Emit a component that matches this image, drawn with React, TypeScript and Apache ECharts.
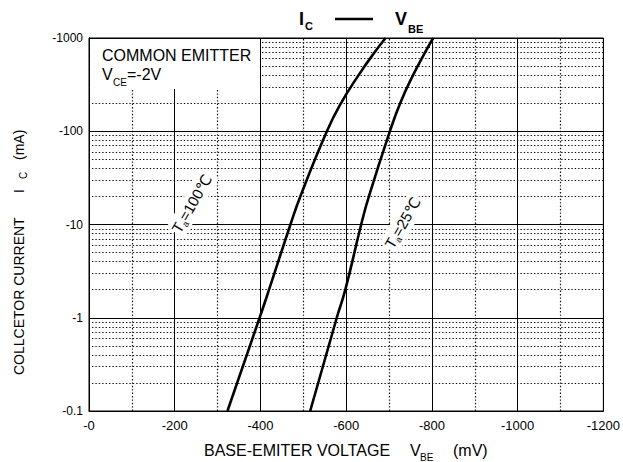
import React, { useEffect, useRef } from "react";
import * as echarts from "echarts";

// Collector current magnitude (mA); axis labels show them negative
const currentMA = [0.1, 1, 2, 10, 20, 100, 200, 400, 700, 1000];
// Base-emitter voltage magnitude (mV) at each current
const vbeTa100 = [323, 398, 420, 470, 493, 555, 588, 629, 666, 692];
const vbeTa25 = [516, 578, 598, 635, 653, 702, 726, 756, 784, 803];

const xMajorStep = 200;
const xMinorLines = [-100, -300, -500, -700, -900, -1100];
const yDecades = [0.1, 1, 10, 100];
const yMantissas = [2, 3, 4, 5, 6, 7, 8, 9];

const FONT = "'Liberation Sans', Arial, Helvetica, 'DejaVu Sans', sans-serif";

function txt(text: string, x: number, y: number, size: number, extra: any = {}) {
  return {
    type: "text",
    x,
    y,
    z: 60,
    silent: true,
    style: {
      text,
      fontSize: size,
      fontFamily: FONT,
      fill: "#000",
      verticalAlign: "middle",
      align: "left",
      ...extra,
    },
  };
}

function taLabel(cx: number, cy: number, value: string, half: number) {
  return {
    type: "group",
    x: cx,
    y: cy,
    rotation: (60 * Math.PI) / 180,
    z: 60,
    silent: true,
    children: [
      {
        type: "rect",
        z: 60,
        shape: { x: -half - 1, y: -10, width: half * 2 + 2, height: 21 },
        style: { fill: "#fff" },
      },
      txt("T", -half, 0, 15),
      txt("a", -half + 9, 5, 9),
      txt(value, -half + 14, 0, 15),
    ],
  };
}

export default function App() {
  const ref = useRef<HTMLDivElement>(null);

  useEffect(() => {
    if (!ref.current) return;
    document.body.style.margin = "0";
    const chart = echarts.init(ref.current, undefined, { renderer: "svg" });

    const minorY: number[] = [];
    yDecades.forEach((d) => yMantissas.forEach((m) => minorY.push(Number((m * d).toPrecision(6)))));

    const mk = (v: number[]) => currentMA.map((c, i) => [-v[i], c]);

    chart.setOption({
      animation: false,
      backgroundColor: "#fff",
      grid: {
        left: 89,
        right: 17,
        top: 38,
        bottom: 51,
        show: true,
        borderColor: "#000",
        borderWidth: 1,
        backgroundColor: "transparent",
      },
      xAxis: {
        type: "value",
        min: -1200,
        max: 0,
        interval: xMajorStep,
        inverse: true,
        axisLine: { show: true, lineStyle: { color: "#000", width: 1 } },
        axisTick: { show: false },
        axisLabel: {
          fontSize: 13,
          fontFamily: FONT,
          color: "#000",
          margin: 8,
          formatter: (v: number) => (v === 0 ? "-0" : String(v)),
        },
        splitLine: { show: true, lineStyle: { color: "#000", width: 1 } },
      },
      yAxis: {
        type: "log",
        logBase: 10,
        min: 0.1,
        max: 1000,
        axisLine: { show: true, lineStyle: { color: "#000", width: 1 } },
        axisTick: { show: false },
        axisLabel: {
          fontSize: 12,
          fontFamily: FONT,
          color: "#000",
          margin: 6,
          formatter: (v: number) => "-" + String(Number(v.toPrecision(6))),
        },
        splitLine: { show: true, lineStyle: { color: "#000", width: 1 } },
      },
      series: [
        {
          type: "line",
          data: [],
          silent: true,
          z: 1,
          markLine: {
            silent: true,
            symbol: ["none", "none"],
            label: { show: false },
            emphasis: { disabled: true },
            lineStyle: { color: "#111", type: [1.4, 2], width: 1.2 },
            data: [
              ...minorY.map((v) => ({ yAxis: v })),
              ...xMinorLines.map((v) => ({ xAxis: v })),
            ],
          },
        },
        {
          type: "line",
          name: "Ta=100",
          data: mk(vbeTa100),
          smooth: 0.5,
          showSymbol: false,
          z: 5,
          lineStyle: { color: "#000", width: 2.6 },
        },
        {
          type: "line",
          name: "Ta=25",
          data: mk(vbeTa25),
          smooth: 0.5,
          showSymbol: false,
          z: 5,
          lineStyle: { color: "#000", width: 2.6 },
        },
      ],
      graphic: [
        {
          type: "rect",
          z: 50,
          silent: true,
          shape: { x: 90, y: 39, width: 170, height: 50 },
          style: { fill: "#fff" },
        },
        txt("COMMON EMITTER", 102, 55, 16),
        txt("V", 102, 74, 16),
        txt("CE", 113, 82, 10),
        txt("=-2V", 127, 74, 16),
        txt("I", 299, 18.5, 18, { fontWeight: "bold" }),
        txt("C", 305, 25.5, 11, { fontWeight: "bold" }),
        {
          type: "line",
          z: 60,
          silent: true,
          shape: { x1: 335, y1: 19, x2: 373, y2: 19 },
          style: { stroke: "#000", lineWidth: 2.5 },
        },
        txt("V", 395, 18.5, 18, { fontWeight: "bold" }),
        txt("BE", 408, 29, 11, { fontWeight: "bold" }),
        txt("BASE-EMITER VOLTAGE", 204, 450, 16),
        txt("V", 410, 450, 16),
        txt("BE", 420, 457, 10),
        txt("(mV)", 453, 450, 16),
        {
          type: "group",
          x: 18.5,
          y: 375,
          rotation: Math.PI / 2,
          silent: true,
          z: 60,
          children: [
            txt("COLLCETOR CURRENT", 0, 0, 14),
            txt("I", 182, 0, 14),
            txt("C", 196, 5, 10),
            txt("(mA)", 215, 0, 14),
          ],
        },
        taLabel(192, 203, "=100℃", 33),
        taLabel(403, 222, "=25℃", 29),
      ],
    });

    return () => chart.dispose();
  }, []);

  return <div ref={ref} style={{ width: 623, height: 462 }} />;
}
